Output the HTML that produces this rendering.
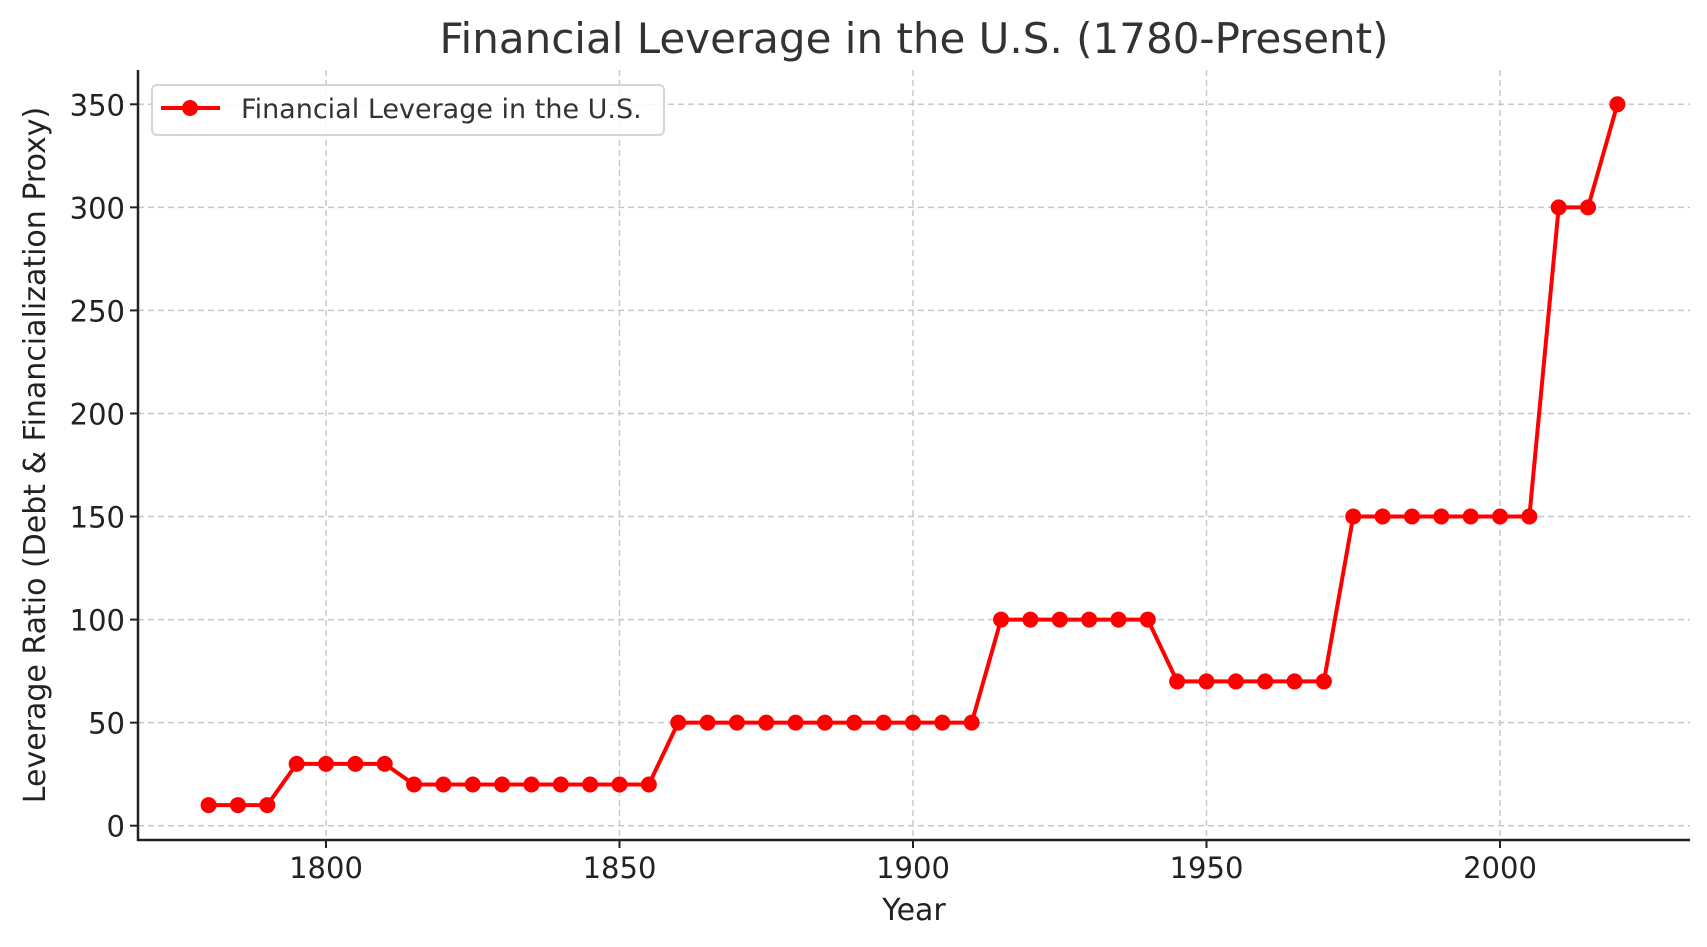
<!DOCTYPE html>
<html><head><meta charset="utf-8"><style>
html,body{margin:0;padding:0;background:#fff;}
svg{display:block;font-family:"DejaVu Sans","Liberation Sans",sans-serif;}
</style></head><body>
<svg id="chart" width="1707" height="947" viewBox="0 0 1707 947">
<text x="914" y="53" text-anchor="middle" font-size="42" fill="#333">Financial Leverage in the U.S. (1780-Present)</text>
<g id="grid"></g>
<g id="axes"></g>
<g id="series"></g>
<text x="914" y="920" text-anchor="middle" font-size="30" fill="#222">Year</text>
<text transform="translate(45,455) rotate(-90)" text-anchor="middle" font-size="30" fill="#222">Leverage Ratio (Debt &amp; Financialization Proxy)</text>
<g>
<rect x="152" y="85" width="512" height="50" rx="5" fill="#fff" fill-opacity="0.85" stroke="#d5d5d5" stroke-width="2"/>
<line x1="161" y1="108" x2="220" y2="108" stroke="#ff0000" stroke-width="4"/>
<circle cx="190" cy="108" r="8" fill="#ff0000"/>
<text x="241" y="118" font-size="27" fill="#333">Financial Leverage in the U.S.</text>
</g>
</svg>
<script>
const years = [1780,1785,1790,1795,1800,1805,1810,1815,1820,1825,1830,1835,1840,1845,1850,1855,1860,1865,1870,1875,1880,1885,1890,1895,1900,1905,1910,1915,1920,1925,1930,1935,1940,1945,1950,1955,1960,1965,1970,1975,1980,1985,1990,1995,2000,2005,2010,2015,2020];
const leverage = [10,10,10,30,30,30,30,20,20,20,20,20,20,20,20,20,50,50,50,50,50,50,50,50,50,50,50,100,100,100,100,100,100,70,70,70,70,70,70,150,150,150,150,150,150,150,300,300,350];
const xTicks = [1800,1850,1900,1950,2000];
const yTicks = [0,50,100,150,200,250,300,350];

const NS = "http://www.w3.org/2000/svg";
const L = 138, R = 1690, T = 70, B = 840;
function xs(v){ return 326 + (v - 1800) * (1500 - 326) / 200; }
function ys(v){ return 825.7 - v * (825.7 - 104.3) / 350; }
function mk(tag, attrs, parent){
  const e = document.createElementNS(NS, tag);
  for (const k in attrs) e.setAttribute(k, attrs[k]);
  parent.appendChild(e); return e;
}
const grid = document.getElementById('grid');
const axes = document.getElementById('axes');
const series = document.getElementById('series');

xTicks.forEach(t => {
  const g = mk('line', {x1: xs(t), x2: xs(t), y1: T, y2: B, stroke: '#c8c8c8', 'stroke-width': 1.5, 'stroke-dasharray': '6,4'}, grid);
  
  
  const tk = mk('line', {x1: xs(t), x2: xs(t), y1: B, y2: B + 8, stroke: '#222', 'stroke-width': 2}, axes);
  
  
  const lb = mk('text', {x: xs(t), y: B + 38, 'text-anchor': 'middle', 'font-size': 29, fill: '#222'}, axes);
  lb.textContent = t;
  
  
});
yTicks.forEach(t => {
  const g = mk('line', {x1: L, x2: R, y1: ys(t), y2: ys(t), stroke: '#c8c8c8', 'stroke-width': 1.5, 'stroke-dasharray': '6,4'}, grid);
  
  
  const tk = mk('line', {x1: L - 8, x2: L, y1: ys(t), y2: ys(t), stroke: '#222', 'stroke-width': 2}, axes);
  
  
  const lb = mk('text', {x: L - 13, y: ys(t) + 11, 'text-anchor': 'end', 'font-size': 29, fill: '#222'}, axes);
  lb.textContent = t;
  
  
});
const ax = mk('path', {d: `M${L},${T} L${L},${B} L${R},${B}`, fill: 'none', stroke: '#222', 'stroke-width': 2.5}, axes);



const pts = years.map((y, i) => xs(y) + ',' + ys(leverage[i])).join(' ');
const pl = mk('polyline', {points: pts, fill: 'none', stroke: '#ff0000', 'stroke-width': 4, 'stroke-linejoin': 'round'}, series);


years.forEach((y, i) => {
  const c = mk('circle', {cx: xs(y), cy: ys(leverage[i]), r: 8, fill: '#ff0000'}, series);
  
  
});
</script>
</body></html>
